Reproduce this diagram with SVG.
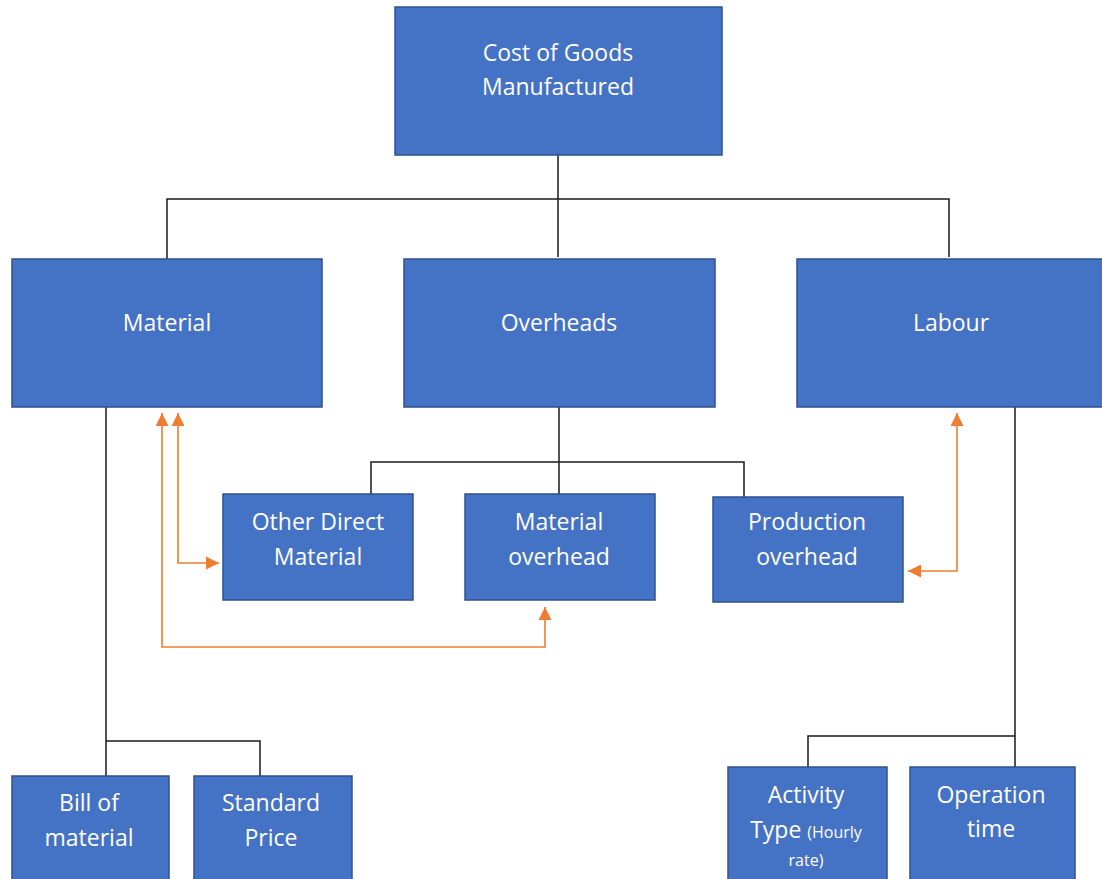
<svg xmlns="http://www.w3.org/2000/svg" width="1102" height="879" viewBox="0 0 1102 879">
<defs>
<style>
.box{fill:#4472C4;stroke:#2F528F;stroke-width:1.5}
.t{fill:#fff;font-family:"Open Sans","Liberation Sans",sans-serif;font-size:23px;text-anchor:middle}
.s{font-size:16px}
.k{fill:none;stroke:#1a1a1a;stroke-width:1.5}
.o{fill:none;stroke:#ED7D31;stroke-width:1.6}
</style>
<marker id="ah" viewBox="0 0 10 10" refX="10" refY="5" markerWidth="14" markerHeight="13" markerUnits="userSpaceOnUse" orient="auto-start-reverse">
<path d="M0,0 L10,5 L0,10 z" fill="#ED7D31"/>
</marker>
</defs>
<rect width="1102" height="879" fill="#fff"/>
<g id="connectors">
<path class="k" d="M558,155 V257 M167,259 V199 H949 V257"/>
<path class="k" d="M106,407 V776 M106,741 H260 V776"/>
<path class="k" d="M559,407 V494 M371,494 V462 H744 V497"/>
<path class="k" d="M1015,407 V767 M1015,736 H808 V767"/>
<path class="o" d="M178,413 V563 H219" marker-start="url(#ah)" marker-end="url(#ah)"/>
<path class="o" d="M162,413 V647 H545 V607" marker-start="url(#ah)" marker-end="url(#ah)"/>
<path class="o" d="M957,413 V571 H908" marker-start="url(#ah)" marker-end="url(#ah)"/>
</g>
<g id="cogm"><rect class="box" x="395" y="7" width="327" height="148"/><text class="t" x="558" y="61">Cost of Goods</text><text class="t" x="558" y="95">Manufactured</text></g>
<g id="material"><rect class="box" x="12" y="259" width="310" height="148"/><text class="t" x="167" y="331">Material</text></g>
<g id="overheads"><rect class="box" x="404" y="259" width="311" height="148"/><text class="t" x="559" y="331">Overheads</text></g>
<g id="labour"><rect class="box" x="797" y="259" width="310" height="148"/><text class="t" x="951" y="331">Labour</text></g>
<g id="odm"><rect class="box" x="223" y="494" width="190" height="106"/><text class="t" x="318" y="530">Other Direct</text><text class="t" x="318" y="565">Material</text></g>
<g id="mo"><rect class="box" x="465" y="494" width="190" height="106"/><text class="t" x="559" y="530">Material</text><text class="t" x="559" y="565">overhead</text></g>
<g id="po"><rect class="box" x="713" y="497" width="190" height="105"/><text class="t" x="807" y="530">Production</text><text class="t" x="807" y="565">overhead</text></g>
<g id="bom"><rect class="box" x="12" y="776" width="157" height="110"/><text class="t" x="89" y="811">Bill of</text><text class="t" x="89" y="846">material</text></g>
<g id="sp"><rect class="box" x="194" y="776" width="158" height="110"/><text class="t" x="271" y="811">Standard</text><text class="t" x="271" y="846">Price</text></g>
<g id="at"><rect class="box" x="728" y="767" width="159" height="120"/><text class="t" x="806" y="803">Activity</text><text class="t" x="806" y="838">Type <tspan class="s">(Hourly</tspan></text><text class="t s" x="806" y="866">rate)</text></g>
<g id="ot"><rect class="box" x="910" y="767" width="165" height="120"/><text class="t" x="991" y="803">Operation</text><text class="t" x="991" y="837">time</text></g>
</svg>
